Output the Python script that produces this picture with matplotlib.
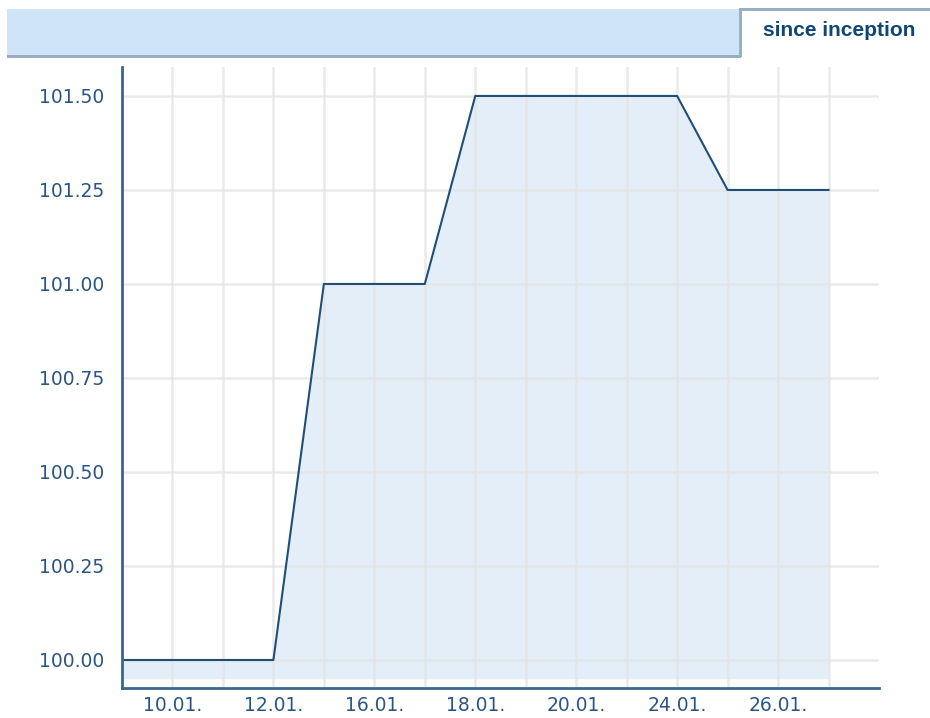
#!/usr/bin/env python3
"""Price chart 'since inception' - area line on category (business day) axis."""
import matplotlib
matplotlib.use("Agg")
import matplotlib.pyplot as plt
from matplotlib.patches import Rectangle

DARK = "#1f4e79"
TEXT = "#2b5683"
SPINE = "#3a6690"
FILL = "#e3eef9"
GRID = "#e4e4e4"
BAND = "#cfe4f7"
BAND_EDGE = "#9aaec4"

dates = ["09.01.", "10.01.", "11.01.", "12.01.", "13.01.", "16.01.", "17.01.",
         "18.01.", "19.01.", "20.01.", "23.01.", "24.01.", "25.01.", "26.01.", "27.01."]
prices = [100.00, 100.00, 100.00, 100.00, 101.00, 101.00, 101.00,
          101.50, 101.50, 101.50, 101.50, 101.50, 101.25, 101.25, 101.25]
yticks = [100.00, 100.25, 100.50, 100.75, 101.00, 101.25, 101.50]

fig = plt.figure(figsize=(9.3, 7.18), dpi=100)
fig.patch.set_facecolor("white")

# ---- header band + tab ---------------------------------------------------- #
W, H = 930, 718
def px(x, y, w, h):
    return (x / W, 1 - (y + h) / H), w / W, h / H

def block(x, y, w, h, color):
    (x0, y0), ww, hh = px(x, y, w, h)
    fig.patches.append(Rectangle((x0, y0), ww, hh, transform=fig.transFigure,
                                 facecolor=color, edgecolor="none"))

block(7, 9, 733, 46, BAND)
block(7, 55, 734, 2.5, BAND_EDGE)
block(739, 8, 2.5, 49, BAND_EDGE)
block(739, 8, 191, 2.5, BAND_EDGE)
fig.text(839 / W, 1 - 31 / H, "since inception", ha="center", va="center",
         fontsize=15, fontweight="bold", color="#0e4677", family="Liberation Sans")

# ---- chart ---------------------------------------------------------------- #
ax = fig.add_axes([122 / W, 1 - 688 / H, 757 / W, 621 / H])
x = list(range(len(dates)))
ax.fill_between(x, prices, 99.95, color=FILL, lw=0, zorder=1)
ax.plot(x, prices, color=DARK, lw=1.5, zorder=3)

ax.set_xlim(0, len(dates))
ax.set_ylim(99.9255, 101.577)
ax.set_xticks(x)
ax.set_xticklabels([d if i % 2 == 1 else "" for i, d in enumerate(dates)])
ax.set_yticks(yticks)
ax.set_yticklabels([f"{v:.2f}" for v in yticks])
ax.grid(True, color=GRID, lw=1.8, alpha=0.75)
for ln in ax.get_xgridlines() + ax.get_ygridlines():
    ln.set_zorder(2)

ax.tick_params(length=0, colors=TEXT, labelsize=13.5)
ax.tick_params(axis="y", pad=13)
ax.tick_params(axis="x", pad=6)
for side in ("top", "right"):
    ax.spines[side].set_visible(False)
for side in ("left", "bottom"):
    ax.spines[side].set_color(SPINE)
    ax.spines[side].set_linewidth(2)
    ax.spines[side].set_zorder(4)

fig.savefig("out.png", dpi=100, facecolor="white")
